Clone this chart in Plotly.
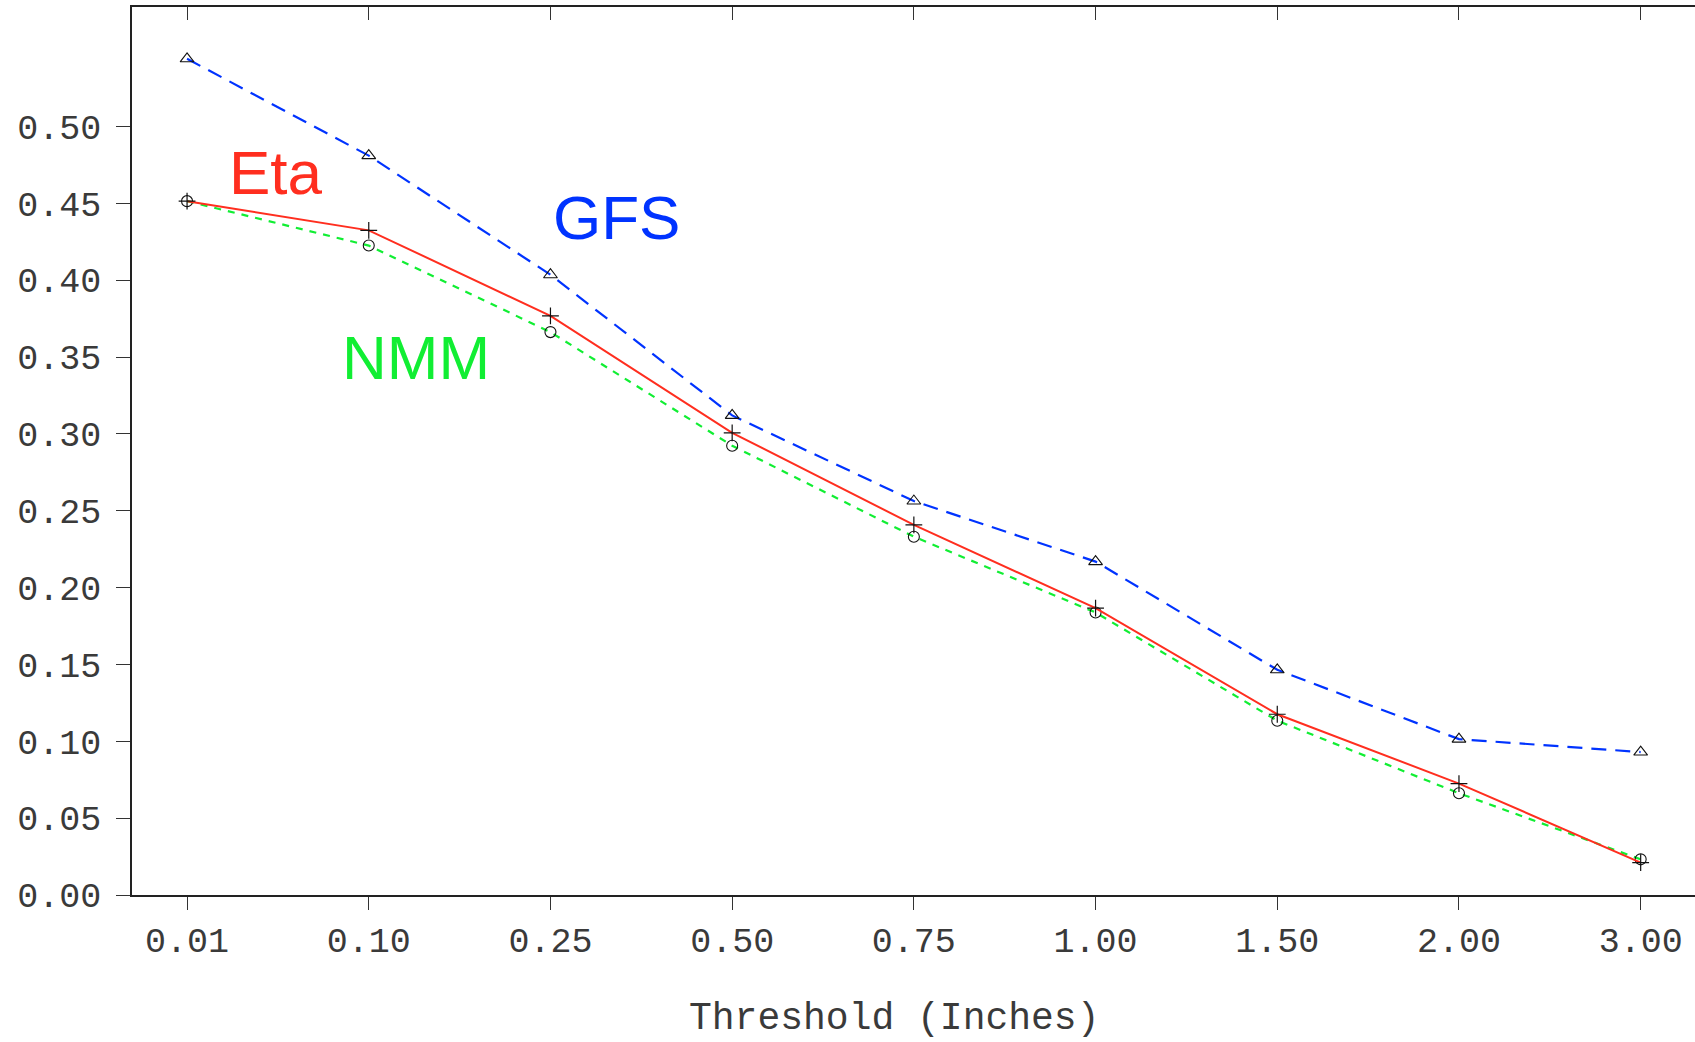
import plotly.graph_objects as go

# Precipitation threshold categories (inches)
thresholds = ["0.01", "0.10", "0.25", "0.50", "0.75", "1.00", "1.50", "2.00", "3.00"]

# Score per threshold for each model
gfs = [0.544, 0.481, 0.4035, 0.312, 0.2563, 0.2169, 0.1465, 0.1014, 0.093]
eta = [0.4514, 0.4324, 0.3768, 0.3007, 0.2408, 0.1866, 0.1176, 0.0725, 0.0211]
nmm = [0.4514, 0.4225, 0.3662, 0.2923, 0.2331, 0.1838, 0.1134, 0.0662, 0.0232]

y_ticks = [0.00, 0.05, 0.10, 0.15, 0.20, 0.25, 0.30, 0.35, 0.40, 0.45, 0.50]

RED = "#ff2e1f"
BLUE = "#0033ff"
GREEN = "#11ee33"
MONO = "Liberation Mono, Courier New, monospace"
SANS = "Liberation Sans, Arial, sans-serif"
TEXT = "#3a3a3a"

fig = go.Figure()

fig.add_trace(go.Scatter(
    x=thresholds, y=gfs, mode="lines+markers", name="GFS",
    line=dict(color=BLUE, width=2.2, dash="15px,9px"),
    marker=dict(symbol="triangle-up-open", size=12, color="#111",
                line=dict(width=1.1, color="#111")),
))
fig.add_trace(go.Scatter(
    x=thresholds, y=nmm, mode="lines+markers", name="NMM",
    line=dict(color=GREEN, width=2.2, dash="7px,7px"),
    marker=dict(symbol="circle-open", size=11, color="#111",
                line=dict(width=1.1, color="#111")),
))
fig.add_trace(go.Scatter(
    x=thresholds, y=eta, mode="lines+markers", name="Eta",
    line=dict(color=RED, width=2),
    marker=dict(symbol="cross-thin-open", size=12, color="#111",
                line=dict(width=1.2, color="#111")),
))
# invisible trace so the top tick axis is drawn
fig.add_trace(go.Scatter(
    x=thresholds, y=[None] * len(thresholds), xaxis="x2",
    mode="markers", showlegend=False, hoverinfo="skip",
))

x_range = [-0.303, 8.299]

fig.update_layout(
    width=1695, height=1042,
    margin=dict(l=132, r=0, t=7, b=147),
    paper_bgcolor="white", plot_bgcolor="white",
    showlegend=False,
    xaxis=dict(
        type="category", range=x_range,
        showgrid=False, zeroline=False,
        showline=True, linecolor="#222", linewidth=1.5,
        ticks="outside", ticklen=13, tickwidth=1.3, tickcolor="#333",
        tickfont=dict(family=MONO, size=35, color=TEXT),
        ticklabelstandoff=0,
    ),
    xaxis2=dict(
        type="category", range=x_range, overlaying="x", side="top",
        showgrid=False, zeroline=False,
        showline=True, linecolor="#222", linewidth=1.5,
        ticks="inside", ticklen=13, tickwidth=1.3, tickcolor="#333",
        showticklabels=False,
    ),
    yaxis=dict(
        range=[0, 0.5777],
        tickvals=y_ticks, ticktext=[f"{v:.2f}" for v in y_ticks],
        showgrid=False, zeroline=False,
        showline=True, linecolor="#222", linewidth=1.5,
        ticks="outside", ticklen=14, tickwidth=1.3, tickcolor="#333",
        tickfont=dict(family=MONO, size=35, color=TEXT),
        ticklabelstandoff=8,
    ),
    annotations=[
        dict(text="Threshold (Inches)", xref="paper", yref="paper",
             x=0.4875, y=-0.139, xanchor="center", yanchor="middle",
             showarrow=False, font=dict(family=MONO, size=38, color=TEXT)),
        dict(text="Eta", x=0.489, y=0.470, xref="x", yref="y",
             showarrow=False, font=dict(family=SANS, size=62, color=RED)),
        dict(text="GFS", x=2.361, y=0.4408, xref="x", yref="y",
             showarrow=False, font=dict(family=SANS, size=62, color=BLUE)),
        dict(text="NMM", x=1.26, y=0.350, xref="x", yref="y",
             showarrow=False, font=dict(family=SANS, size=62, color=GREEN)),
    ],
)

fig.write_html("out.html")
